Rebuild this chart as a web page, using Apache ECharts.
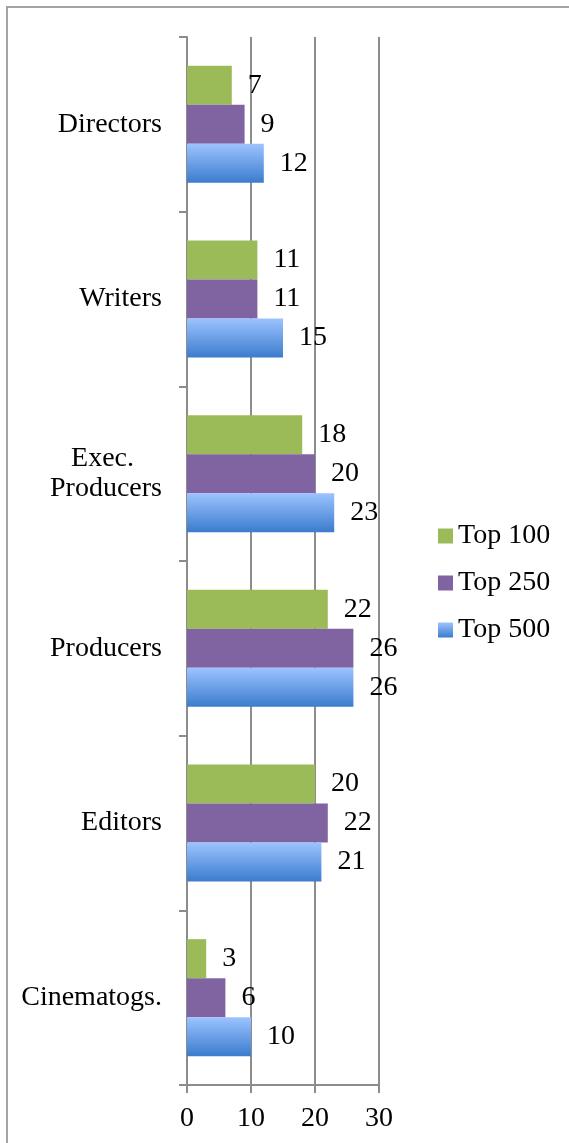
<!DOCTYPE html>
<html>
<head>
<meta charset="utf-8">
<script src="https://cdn.jsdelivr.net/npm/echarts@6/dist/echarts.min.js"></script>
<style>
html,body{margin:0;padding:0;background:#fff;}
#chart{width:569px;height:1143px;}
</style>
</head>
<body>
<div id="chart"></div>
<script>
const categories = ['Directors', 'Writers', 'Exec.\nProducers', 'Producers', 'Editors', 'Cinematogs.'];
const top100 = [7, 11, 18, 22, 20, 3];
const top250 = [9, 11, 20, 26, 22, 6];
const top500 = [12, 15, 23, 26, 21, 10];
const xTicks = [0, 10, 20, 30];

const FONT = 'Liberation Serif';
const FS = 28;
const axisGray = '#8c8c8c';

const chart = echarts.init(document.getElementById('chart'));

const blueGrad = new echarts.graphic.LinearGradient(0, 0, 0, 1, [
  {offset: 0, color: '#9cc3ff'},
  {offset: 1, color: '#3b7ccd'}
]);

function barSeries(name, data, color) {
  return {
    name: name,
    type: 'bar',
    data: data,
    barGap: '0%',
    barCategoryGap: '33%',
    itemStyle: {color: color},
    label: {
      show: true,
      position: 'right',
      distance: 16,
      color: '#000',
      fontFamily: FONT,
      fontSize: FS
    }
  };
}

chart.setOption({
  animation: false,
  backgroundColor: '#fff',
  textStyle: {fontFamily: FONT},
  graphic: [{
    type: 'rect',
    z: -10,
    shape: {x: 7, y: 7, width: 700, height: 1300},
    style: {fill: 'none', stroke: '#a3a3a3', lineWidth: 2}
  }],
  grid: {left: 187, right: 190, top: 37, bottom: 58, containLabel: false},
  legend: {
    orient: 'vertical',
    left: 433,
    top: 517,
    itemWidth: 15,
    itemHeight: 15,
    itemGap: 19,
    icon: 'rect',
    data: ['Top 100', 'Top 250', 'Top 500'],
    textStyle: {fontFamily: FONT, fontSize: FS, color: '#000'}
  },
  xAxis: {
    type: 'value',
    min: xTicks[0],
    max: xTicks[xTicks.length - 1],
    interval: 10,
    axisLine: {show: true, lineStyle: {color: axisGray, width: 2}},
    axisTick: {show: true, length: 8, lineStyle: {color: axisGray, width: 2}},
    splitLine: {show: true, lineStyle: {color: axisGray, width: 2}},
    axisLabel: {
      margin: 20,
      color: '#000',
      fontFamily: FONT,
      fontSize: FS,
      formatter: v => xTicks.includes(v) ? String(v) : ''
    }
  },
  yAxis: {
    type: 'category',
    inverse: true,
    data: categories,
    axisLine: {show: true, lineStyle: {color: axisGray, width: 2}},
    axisTick: {show: true, length: 8, lineStyle: {color: axisGray, width: 2}},
    axisLabel: {
      margin: 25,
      color: '#000',
      fontFamily: FONT,
      fontSize: FS,
      formatter: function (v) {
        if (v.indexOf('\n') >= 0) {
          const parts = v.split('\n');
          return '{t|' + parts[0] + '}{p|}\n{t|' + parts[1] + '}';
        }
        return '{t|' + v + '}';
      },
      rich: {
        t: {fontFamily: FONT, fontSize: FS, color: '#000', lineHeight: 30},
        p: {width: 28, lineHeight: 30}
      }
    }
  },
  series: [
    barSeries('Top 100', top100, '#9bbb59'),
    barSeries('Top 250', top250, '#8064a2'),
    barSeries('Top 500', top500, blueGrad)
  ]
});
</script>
</body>
</html>
